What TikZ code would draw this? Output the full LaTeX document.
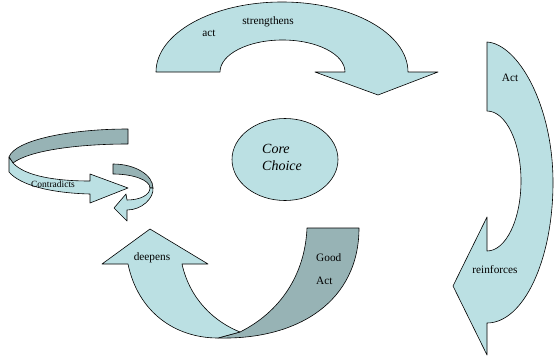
\documentclass[tikz,border=0pt]{standalone}
\usepackage{fontspec}
\setmainfont{Liberation Serif}
\usetikzlibrary{shapes.geometric}
\definecolor{lightfill}{HTML}{BBE0E3}
\definecolor{darkfill}{HTML}{97B3B5}
\tikzset{
  lightpart/.style={fill=lightfill, draw=black, line width=0.6pt, line join=round},
  darkpart/.style={fill=darkfill, draw=black, line width=0.6pt, line join=round},
  lbl/.style={inner sep=0pt, font=\fontsize{11.3}{13}\selectfont},
  smalllbl/.style={inner sep=0pt, font=\fontsize{9.5}{11}\selectfont},
}
\begin{document}
\begin{tikzpicture}[x=1pt,y=-1pt]
\useasboundingbox (0,0) rectangle (554,356);

% top arrow (strengthens)
\draw[lightpart] (156,72) .. controls (156,33.3) and (212.4,2) .. (282,2)
  .. controls (351.6,2) and (408,33.3) .. (408,72)
  -- (438,72) -- (378,95) -- (315,72) -- (345,72)
  .. controls (345,54.3) and (317,40) .. (282.5,40)
  .. controls (248,40) and (220,54.3) .. (220,72) -- cycle;
\node[lbl] (tact) at (209,33) {act};
\node[lbl] (tstr) at (268,22) {strengthens};

% right arrow (reinforces)
\draw[lightpart] (487,42) .. controls (518,44) and (553,105) .. (553,182.5)
  .. controls (553,260.1) and (523.5,323) .. (487,323)
  -- (487,355) -- (453,286) -- (487,217) -- (487,251)
  .. controls (505.8,251) and (521,219.7) .. (521,181)
  .. controls (521,142.3) and (505.8,111) .. (487,111) -- cycle;
\node[lbl] (ract) at (510,78) {Act};
\node[lbl] (rrein) at (495,270) {reinforces};

% core choice
\node[ellipse, fill=lightfill, draw=black, line width=0.6pt,
  minimum width=106pt, minimum height=82pt, inner sep=0pt] (core) at (285,159.5) {};
\node[anchor=west, inner sep=0pt, align=left,
  font=\fontsize{14}{17}\selectfont\itshape] (corelabel) at (262,157.5) {Core\\Choice};

% bottom arrow (deepens / Good Act)
\draw[darkpart] (240,332) .. controls (280,312) and (305,275) .. (307,228)
  -- (359,228) .. controls (359,300) and (300,340) .. (218,338) -- cycle;
\draw[lightpart] (128,264) .. controls (138,312) and (175,338) .. (218,338)
  -- (240,332) .. controls (215,322) and (190,300) .. (182,264)
  -- (208,264) -- (150,229) -- (102,264) -- cycle;
\node[lbl] (bdeep) at (152,258) {deepens};
\node[lbl, anchor=west] (bgood) at (316,258) {Good};
\node[lbl, anchor=west] (bact) at (316,281) {Act};

% left twisted arrow (Contradicts)
\draw[darkpart] (128,129) .. controls (70,129) and (15,140) .. (9,157)
  -- (13,163) .. controls (30,150) and (80,144) .. (128,144) -- cycle;
\draw[lightpart] (9,157) -- (9,172) .. controls (20,185) and (50,193) .. (90,194)
  -- (90,203) -- (128,188) -- (90,174) -- (90,181)
  .. controls (55,181) and (25,176) .. (13,163) -- cycle;
\node[smalllbl] (lcontra) at (53,184) {Contradicts};

% small twisted arrow
\draw[darkpart] (113,164) .. controls (135,164) and (153,175) .. (153,188)
  -- (150,188) .. controls (150,180) and (133,174) .. (113,174) -- cycle;
\draw[lightpart] (153,188) .. controls (154,198) and (142,210) .. (127,210)
  -- (127,221) -- (114,208) -- (126,194) -- (127,200)
  .. controls (140,200) and (150,195) .. (150,188) -- cycle;
\end{tikzpicture}
\end{document}
